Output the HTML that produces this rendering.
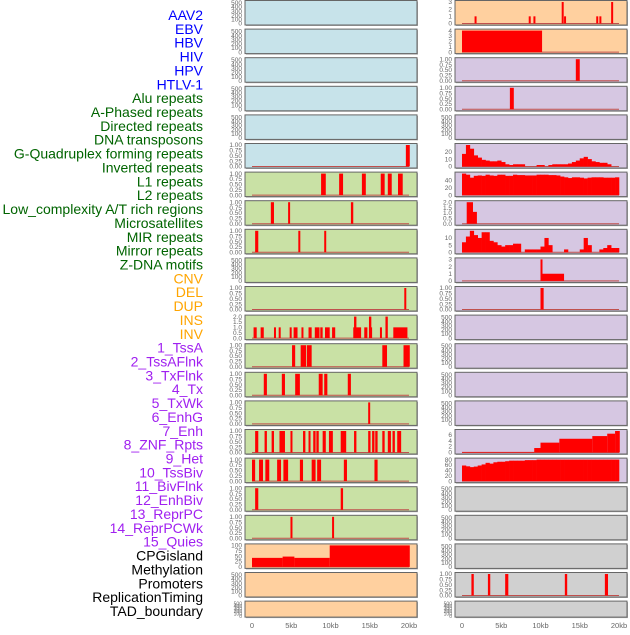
<!DOCTYPE html>
<html><head><meta charset="utf-8"><style>
body{margin:0;background:#fff;width:630px;height:630px;overflow:hidden;font-family:"Liberation Sans",sans-serif}
svg text{font-family:"Liberation Sans",sans-serif}
</style></head><body>
<svg id="chart" width="630" height="630"></svg>
<script>
const trackLabels=["AAV2","EBV","HBV","HIV","HPV","HTLV-1","Alu repeats","A-Phased repeats","Directed repeats","DNA transposons","G-Quadruplex forming repeats","Inverted repeats","L1 repeats","L2 repeats","Low_complexity A/T rich regions","Microsatellites","MIR repeats","Mirror repeats","Z-DNA motifs","CNV","DEL","DUP","INS","INV","1_TssA","2_TssAFlnk","3_TxFlnk","4_Tx","5_TxWk","6_EnhG","7_Enh","8_ZNF_Rpts","9_Het","10_TssBiv","11_BivFlnk","12_EnhBiv","13_ReprPC","14_ReprPCWk","15_Quies","CPGisland","Methylation","Promoters","ReplicationTiming","TAD_boundary"];
const xTicks=[0,5,10,15,20];
const xTickLabels=["0","5kb","10kb","15kb","20kb"];
// segments: [startKb,endKb,value]
const L5=[[19.6,20.1,1]];
const L6=[[8.8,9.4,1],[11.1,11.6,1],[14.0,14.5,1],[16.4,16.9,1],[17.3,17.8,1],[18.6,19.2,1]];
const L7=[[2.4,2.8,1],[4.6,4.8,1],[12.6,12.9,1]];
const L8=[[0.4,0.8,1],[5.9,6.1,1],[9.2,9.4,1]];
const L10=[[19.4,19.6,1]];
const L11=[[0.2,0.6,1],[1.1,1.5,1],[2.8,3.0,1],[3.4,3.6,1],[4.8,5.0,1],[5.3,5.8,1],[6.3,6.5,1],[7.2,7.6,1],[8.0,8.6,1],[8.7,9.0,1],[9.3,9.9,1],[10.2,10.6,1],[12.9,13.9,1],[13.0,13.3,2],[14.3,14.7,1],[14.9,15.3,1],[14.9,15.2,2],[16.3,16.5,1],[17.0,17.3,2],[18.0,19.8,1]];
const L12=[[5.1,5.5,1],[6.2,6.9,1],[7.0,7.6,1],[16.6,17.2,1],[19.3,20.1,1]];
const L13=[[1.5,1.9,1],[3.8,4.2,1],[5.5,6.1,1],[8.5,9.0,1],[9.2,9.6,1],[12.2,12.6,1]];
const L14=[[14.8,15.0,1]];
const L15=[[0.4,0.8,1],[1.6,1.9,1],[2.5,2.8,1],[3.5,4.2,1],[4.9,5.1,1],[6.5,6.8,1],[7.2,7.4,1],[7.8,8.1,1],[8.2,8.5,1],[9.0,9.4,1],[9.8,10.3,1],[11.3,12.0,1],[13.0,13.3,1],[14.8,15.1,1],[15.3,15.6,1],[15.7,16.0,1],[16.6,16.9,1],[17.3,17.7,1],[17.9,18.2,1],[18.5,19.0,1]];
const L16=[[0.0,0.4,1],[0.9,1.4,1],[1.7,2.2,1],[3.2,3.7,1],[4.0,4.6,1],[6.1,6.5,1],[7.6,8.1,1],[8.3,8.8,1],[11.7,12.1,1],[15.6,16.0,1]];
const L17=[[0.4,0.8,1],[11.3,11.6,1]];
const L18=[[4.9,5.1,1],[10.2,10.4,1]];
const L19=[[0,3.9,42],[3.9,5.4,48],[5.4,9.9,42],[9.9,20.1,100]];
const R0=[[1.6,1.8,1],[8.5,8.7,1],[9.1,9.3,1],[12.7,12.9,3],[13.0,13.2,1],[17.1,17.3,1],[17.5,17.7,1],[19.0,19.2,3]];
const R1=[[0,10.2,4]];
const R2=[[14.5,15.0,1]];
const R3=[[6.1,6.6,1]];
const R7=[[0.6,1.4,2],[1.4,1.9,1.1]];
const R9=[[10.0,10.2,3],[10.2,13.0,1]];
const R10=[[10.0,10.4,1]];
const R15=[[0,9.2,0.2],[9.2,10.0,1.5],[10.0,12.4,3.3],[12.4,16.6,4.6],[16.6,18.5,5.5],[18.5,19.5,6.3],[19.5,20.1,7.2]];
const R20=[[1.2,1.5,1],[3.3,3.6,1],[5.5,5.9,1],[13.1,13.4,1],[18.2,18.6,1]];
// histograms: 0.5kb bins from 0
const R5h=[17,29,24,15,12,9,8,7,7,8,6,3,2,3,3,3,0,0,0,2,2,0,2,3,3,3,3,4,6,8,11,13,10,7,6,5,5,3,0,0];
const R6h=[58,55,47,52,53,52,55,53,52,55,55,52,52,55,54,54,53,53,53,55,55,55,54,54,53,50,48,46,48,48,47,45,47,48,48,48,47,47,47,48];
const R8h=[7,11,15,12,10,14,14,8,7,5,4,5,5,6,6,0,2,2,2,2,4,10,5,0,0,0,2,0,0,0,2,10,5,0,0,2,3,5,3,3];
const R16h=[58,55,52,54,58,62,68,65,70,72,72,74,76,76,76,76,78,78,78,80,80,80,80,80,80,80,80,80,80,80,80,80,80,80,80,80,80,80,80,80];

const BLUE="#c7e3ea",GREEN="#c9e1a5",ORANGE="#ffd09f",PURPLE="#d6c7e2",GRAY="#d0d0d0";
const T500={max:520,ticks:[0,100,200,300,400,500],lab:["0","100","200","300","400","500"]};
const T1={max:1,ticks:[0,.25,.5,.75,1],lab:["0.00","0.25","0.50","0.75","1.00"]};
const leftPanels=[
{bg:BLUE,t:T500},{bg:BLUE,t:T500},{bg:BLUE,t:T500},{bg:BLUE,t:T500},{bg:BLUE,t:T500},
{bg:BLUE,t:T1,seg:L5},{bg:GREEN,t:T1,seg:L6},{bg:GREEN,t:T1,seg:L7},{bg:GREEN,t:T1,seg:L8},{bg:GREEN,t:T500},
{bg:GREEN,t:T1,seg:L10},{bg:GREEN,t:{max:2,ticks:[0,.5,1,1.5,2],lab:["0.0","0.5","1.0","1.5","2.0"]},seg:L11},
{bg:GREEN,t:T1,seg:L12},{bg:GREEN,t:T1,seg:L13},{bg:GREEN,t:T1,seg:L14},{bg:GREEN,t:T1,seg:L15},{bg:GREEN,t:T1,seg:L16},
{bg:GREEN,t:T1,seg:L17},{bg:GREEN,t:T1,seg:L18},
{bg:ORANGE,t:{max:100,ticks:[0,25,50,75,100],lab:["0","25","50","75","100"]},seg:L19},
{bg:ORANGE,t:T500},{bg:ORANGE,t:T500,short:true}];
const rightPanels=[
{bg:ORANGE,t:{max:3,ticks:[0,1,2,3],lab:["0","1","2","3"]},seg:R0},
{bg:ORANGE,t:{max:4,ticks:[0,1,2,3,4],lab:["0","1","2","3","4"]},seg:R1},
{bg:PURPLE,t:T1,seg:R2},{bg:PURPLE,t:T1,seg:R3},{bg:PURPLE,t:T500},
{bg:PURPLE,t:{max:29,ticks:[0,10,20],lab:["0","10","20"]},hist:R5h},
{bg:PURPLE,t:{max:58,ticks:[0,20,40],lab:["0","20","40"]},hist:R6h},
{bg:PURPLE,t:{max:2,ticks:[0,.5,1,1.5,2],lab:["0.0","0.5","1.0","1.5","2.0"]},seg:R7},
{bg:PURPLE,t:{max:15,ticks:[0,5,10],lab:["0","5","10"]},hist:R8h},
{bg:PURPLE,t:{max:3,ticks:[0,1,2,3],lab:["0","1","2","3"]},seg:R9},
{bg:PURPLE,t:T1,seg:R10},{bg:PURPLE,t:T500},{bg:PURPLE,t:T500},{bg:PURPLE,t:T500},{bg:PURPLE,t:T500},
{bg:PURPLE,t:{max:7.2,ticks:[0,2,4,6],lab:["0","2","4","6"]},seg:R15},
{bg:PURPLE,t:{max:80,ticks:[0,20,40,60,80],lab:["0","20","40","60","80"]},hist:R16h},
{bg:GRAY,t:T500},{bg:GRAY,t:T500},{bg:GRAY,t:T500},{bg:GRAY,t:T1,seg:R20},{bg:GRAY,t:T500,short:true}];

const NS="http://www.w3.org/2000/svg";
const svg=document.getElementById("chart");
function mk(tag,attrs,parent){const e=document.createElementNS(NS,tag);for(const k in attrs)e.setAttribute(k,attrs[k]);(parent||svg).appendChild(e);return e;}
const labelColors=i=>i<6?"#0000ff":i<19?"#006400":i<24?"#ffa500":i<39?"#a020f0":"#000";
trackLabels.forEach((t,i)=>{
  const e=mk("text",{x:203,y:15+i*13.86+5,"text-anchor":"end","font-size":"14",fill:labelColors(i)});
  e.textContent=t;
  
  
});
function drawPanel(p,i,col){
  const px=col===0?245:455, pw=172, top=0.5+i*28.6, h=p.short?16:24.5;
  const x0=px+7, xs=157/20;
  const xScale=k=>x0+k*xs;
  const yb=top+h-1.5, yt=top+1.5;
  const yScale=v=>yb-(v/p.t.max)*(yb-yt);
  const g=mk("g",{});
  
  
  mk("rect",{x:px+1,y:top+1,width:pw,height:h,fill:"#aaa"},g);
  mk("rect",{x:px,y:top,width:pw,height:h,fill:p.bg,stroke:"#666","stroke-width":1},g);
  const fs=p.short?5:6.5;
  p.t.ticks.forEach((v,j)=>{
    const ty=yScale(v);
    const e=mk("text",{x:px-3,y:ty+2.2,"text-anchor":"end","font-size":fs,fill:"#666"},g);
    e.textContent=p.t.lab[j];
  });
  if(p.seg||p.hist) mk("line",{x1:xScale(0),x2:xScale(20),y1:yb,y2:yb,stroke:"#c0504d","stroke-width":1},g);
  if(p.seg) p.seg.forEach(s=>{
    const r=mk("rect",{x:xScale(s[0]),y:yScale(s[2]),width:Math.max(2,xScale(s[1])-xScale(s[0])),height:yb-yScale(s[2]),fill:"#ff0000"},g);
    
    
  });
  if(p.hist) p.hist.forEach((v,j)=>{
    const r=mk("rect",{x:xScale(j*0.5),y:yScale(v),width:xScale(0.5)-xScale(0)+0.3,height:yb-yScale(v),fill:"#ff0000"},g);
    
    
  });
}
leftPanels.forEach((p,i)=>drawPanel(p,i,0));
rightPanels.forEach((p,i)=>drawPanel(p,i,1));
[252,462].forEach((x0,c)=>{
  xTicks.forEach((k,j)=>{
    const e=mk("text",{x:x0+k*157/20,y:628,"text-anchor":"middle","font-size":"7.5",fill:"#666"});
    e.textContent=xTickLabels[j];
    
    
  });
});
</script>
</body></html>
